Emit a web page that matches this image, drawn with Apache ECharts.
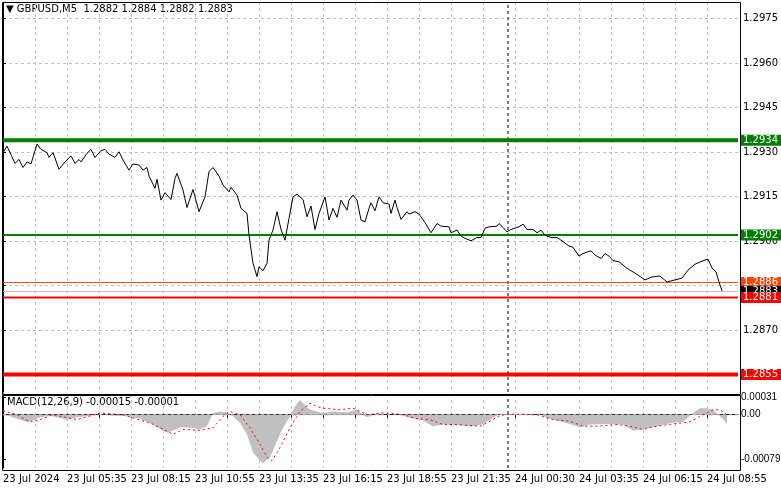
<!DOCTYPE html>
<html><head><meta charset="utf-8">
<script src="https://cdn.jsdelivr.net/npm/echarts@6/dist/echarts.min.js"></script>
<style>html,body{margin:0;padding:0;background:#fff}#c{width:781px;height:489px}</style>
</head><body><div id="c"></div>
<script>
const priceBars = [0,2,6,8,10,12,14,17,19,22,23,25,28,31,34,36,38,39,42,44,46,49,51,53,56,58,60,63,65,68,70,72,73,76,77,79,81,84,86,87,90,92,95,98,101,103,105,108,110,113,114,117,119,122,123,125,127,128,130,132,133,135,137,139,141,143,145,147,150,152,154,156,158,161,163,165,167,169,172,173,175,177,179,181,183,
184,186,188,190,193,194,196,197,199,202,203,206,208,211,214,217,219,223,224,227,229,231,234,237,239,241,243,247,248,250,252,254,255,258,260,262,265,267,269,271,274,277,279,283,285,288,290,294,296,299,301,303,305,308,312,
316,321,324.5,328.5,332,336,339.5,342.5,346,348.5,351,352.5,354.5,356.5,358,359.5];
const priceVals = [1.29298,1.29320,1.29262,1.29275,1.29248,1.29267,1.29260,1.29327,1.29309,1.29298,1.29282,1.29298,1.29242,1.29267,1.29287,1.29262,1.29275,1.29267,1.29296,1.29309,1.29282,1.29305,1.29309,1.29293,1.29282,1.29301,1.29273,1.29239,1.29260,1.29256,1.29239,1.29248,1.29219,1.29178,1.29208,1.29138,1.29163,1.29140,1.29211,1.29228,1.29172,1.29113,1.29174,1.29099,1.29149,1.29234,1.29248,1.29219,1.29189,1.29166,1.29181,1.29155,1.29110,1.29093,1.29020,1.28925,1.28880,1.28913,1.28900,1.28925,1.29003,1.29037,1.29099,1.29039,1.29003,1.29076,1.29149,1.29158,1.29140,1.29082,1.29118,1.29039,1.29093,1.29149,1.29071,1.29110,1.29080,1.29138,1.29104,1.29138,1.29155,1.29138,1.29071,1.29065,1.29110,
1.29129,1.29102,1.29149,1.29129,1.29125,1.29093,1.29138,1.29113,1.29073,1.29099,1.29091,1.29099,1.29091,1.29062,1.29028,1.29059,1.29050,1.29048,1.29028,1.29037,1.29017,1.29009,1.29001,1.29012,1.29012,1.29043,1.29048,1.29050,1.29059,1.29046,1.29031,1.29039,1.29043,1.29048,1.29057,1.29039,1.29039,1.29028,1.29037,1.29020,1.29012,1.29012,1.29003,1.28983,1.28979,1.28949,1.28958,1.28967,1.28953,1.28941,1.28958,1.28949,1.28934,1.28930,1.28908,
1.28892,1.28869,1.28879,1.28882,1.28862,1.28869,1.28875,1.28902,1.28922,1.28929,1.28936,1.28939,1.28909,1.28896,1.28862,1.28832];
// MACD in units of 1e-5
const histBars = [0,3.5,8.5,12,15,18.5,23.5,28.5,32,37,43.5,48.5,53.5,62,68.5,75,80,82.5,85,88.5,95,98.5,102,105,108.5,112,115,118.5,122,125,128.5,130,133.5,137,140,143.5,146,148.5,151,153.5,157,160,165,172,177,180,182,187,192,
198.5,203.5,210,215,220,227,235,240,245,248.5,252,260,268.5,273.5,280,288.5,293.5,302,310,315,320,327,333.5,340,345,348.5,352,355,358.5,361,362];
const histVals = [0,-2.9,-8.7,-12.8,-10.4,-4.6,-1.7,-5.8,-8.7,-4.6,-1.7,1.2,-1.2,-2.9,-7,-17.4,-29,-31.9,-27.8,-22,-23.2,-26.1,-20.3,2.9,5.8,4.6,-2.9,-14.5,-34.8,-66.7,-81.2,-85.8,-75.4,-46.4,-23.2,-2.9,14.5,26.1,17.4,8.7,5.8,2.9,5.8,4.6,8.7,0,-4.6,1.2,0,
0,-5.8,-10.4,-20.3,-17.4,-18.6,-20.3,-16.2,-5.8,1.7,1.2,1.2,0,-7,-12.8,-22,-17.4,-16.2,-17.4,-27.8,-26.1,-20.3,-14.5,-12.8,2.9,11.6,11.6,8.7,-2.9,-11.6,-17.4];
const sigBars = [0,7,13.5,18.5,25,37,48.5,60,65,73.5,82,85,90,98.5,105,110,113.5,118.5,123.5,128.5,132,134.5,138.5,143.5,148.5,153.5,157,160,168.5,175,182,188.5,
193.5,200,207,213.5,220,227,238.5,243.5,248.5,253.5,267,275,283.5,290,297,307,313.5,320,327,335,343.5,350,355,358.5,362];
const sigVals = [7,0,-12.8,-8.7,0,-8.7,2.9,0,-5.8,-14.5,-29,-34.8,-26.1,-27.8,-23.2,-2.9,5.8,0,-23.2,-52.2,-75.4,-81.2,-58,-23.2,5.8,20.3,14.5,11.6,8.7,11.6,0,2.9,
2.9,0,-7,-8.7,-17.4,-17.4,-20.3,-11.6,-1.2,1.2,0,-8.7,-11.6,-20.3,-20.3,-17.4,-20.3,-26.1,-20.3,-16.2,-12.8,0,8.7,8.7,0];
const timeTickBars = [0,32,64,96,128,160,192,224,256,288,320,352];
const timeTickLabels = ["23 Jul 2024","23 Jul 05:35","23 Jul 08:15","23 Jul 10:55","23 Jul 13:35","23 Jul 16:15","23 Jul 18:55","23 Jul 21:35","24 Jul 00:30","24 Jul 03:35","24 Jul 06:15","24 Jul 08:55"];
const gridBars = [16,32,48,64,80,96,112,128,144,160,176,192,208,224,240,256,272,288,304,320,336,352];
const priceTicks = [1.2870,1.2885,1.2900,1.2915,1.2930,1.2945,1.2960,1.2975];
const macdTicks = [31,0,-79];
const macdTickLabels = ["0.00031","0.00","-0.00079"];
const levelVals = [1.2934,1.2902,1.2886,1.2883,1.2881,1.2855];
const levelStyle = [
  {c:'#008000',w:4,bg:'#008000'},
  {c:'#008000',w:2,bg:'#008000'},
  {c:'#ff4500',w:1,bg:'#ff4500'},
  {c:'#c0c0c0',w:1,bg:'#000000'},
  {c:'#ff0000',w:2,bg:'#ff0000'},
  {c:'#ff0000',w:4,bg:'#ff0000'}
];
const crossBar = 252.5;
const XMAX = 367.5, PMIN = 1.28491, PMAX = 1.29806, MMIN = -94.3, MMAX = 36.7;

const F = 'DejaVu Sans';
const dash = {type:[3,3], color:'#c0c0c0', width:1};
const chart = echarts.init(document.getElementById('c'), null, {renderer:'canvas'});
const xAx = (i, show) => ({
  type:'value', gridIndex:i, min:0, max:XMAX, scale:true,
  axisLine:{show:show,lineStyle:{color:'#000'}},
  axisTick:{show:show, customValues:gridBars, length:3, lineStyle:{color:'#000'}},
  axisLabel:{show:show, customValues:timeTickBars, fontFamily:F, fontSize:10, color:'#000', align:'left', margin:6,
    formatter:(v)=>{const k=timeTickBars.indexOf(Math.round(v)); return k>=0?timeTickLabels[k]:'';}},
  splitLine:{show:true,lineStyle:dash}
});
const levelSeries = levelVals.map((v,i)=>({
  type:'line',xAxisIndex:0,yAxisIndex:0,symbol:'none',silent:true,z:4,
  lineStyle:{color:levelStyle[i].c,width:levelStyle[i].w},
  data:[[0,v],[XMAX,v]],
  endLabel:{show:true,formatter:v.toFixed(4),backgroundColor:levelStyle[i].bg,color:'#fff',
    fontFamily:F,fontSize:10,padding:[1,3,0,3],distance:2}
}));
const option = {
  animation:false,
  backgroundColor:'#fff',
  grid:[{left:3,right:43,top:2,height:390,outerBoundsMode:'none'},{left:3,right:43,top:394,height:74,outerBoundsMode:'none'}],
  xAxis:[xAx(0,false), xAx(1,true)],
  yAxis:[
    {type:'value',gridIndex:0,position:'right',min:PMIN,max:PMAX,
     axisLine:{show:true,lineStyle:{color:'#000'}},
     axisTick:{show:true,customValues:priceTicks,length:3,lineStyle:{color:'#000'}},
     axisLabel:{customValues:priceTicks,fontFamily:F,fontSize:10,color:'#000',margin:5,formatter:v=>v.toFixed(4)},
     splitLine:{show:true,lineStyle:dash}},
    {type:'value',gridIndex:1,position:'right',min:MMIN,max:MMAX,
     axisLine:{show:true,lineStyle:{color:'#000'}},
     axisTick:{show:true,customValues:macdTicks,length:3,lineStyle:{color:'#000'}},
     axisLabel:{customValues:macdTicks,fontFamily:'Liberation Sans',fontSize:10,color:'#000',margin:3,
       formatter:v=>{const k=macdTicks.indexOf(Math.round(v)); return k>=0?macdTickLabels[k]:'';}},
     splitLine:{show:false}}
  ],
  series:[
    {type:'line',xAxisIndex:0,yAxisIndex:0,symbol:'none',lineStyle:{color:'#000',width:1},z:6,
     data:priceBars.map((b,i)=>[b,priceVals[i]])},
    ...levelSeries,
    {type:'line',xAxisIndex:0,yAxisIndex:0,symbol:'none',silent:true,z:3,lineStyle:{color:'#000',width:1,type:[3,3]},
     data:[[crossBar,PMIN],[crossBar,PMAX]]},
    {type:'line',xAxisIndex:1,yAxisIndex:1,symbol:'none',lineStyle:{width:0},
     areaStyle:{color:'#c0c0c0',opacity:1,origin:0},
     data:histBars.map((b,i)=>[b,histVals[i]])},
    {type:'line',xAxisIndex:1,yAxisIndex:1,symbol:'none',silent:true,z:1,lineStyle:dash,
     data:[[0,0],[XMAX,0]]},
    {type:'line',xAxisIndex:1,yAxisIndex:1,symbol:'none',silent:true,z:3,lineStyle:{color:'#000',width:1,type:[3,3]},
     data:[[crossBar,MMIN],[crossBar,MMAX]]},
    {type:'line',xAxisIndex:1,yAxisIndex:1,symbol:'none',lineStyle:{color:'#ff0000',width:1,type:[2,3]},z:5,
     data:sigBars.map((b,i)=>[b,sigVals[i]])}
  ],
  graphic:[
    {type:'rect',left:0,top:0,z:100,shape:{width:738,height:392},style:{fill:'none',stroke:'#000',lineWidth:1},silent:true},
    {type:'rect',left:0,top:393,z:100,shape:{width:738,height:75},style:{fill:'none',stroke:'#000',lineWidth:1},silent:true},
    {type:'text',left:6,top:4,style:{text:'▼ GBPUSD,M5  1.2882 1.2884 1.2882 1.2883',font:'10px "DejaVu Sans"',fill:'#000'}},
    {type:'text',left:7,top:397,style:{text:'MACD(12,26,9) -0.00015 -0.00001',font:'10px "DejaVu Sans"',fill:'#000'}}
  ]
};
chart.setOption(option);
</script></body></html>
